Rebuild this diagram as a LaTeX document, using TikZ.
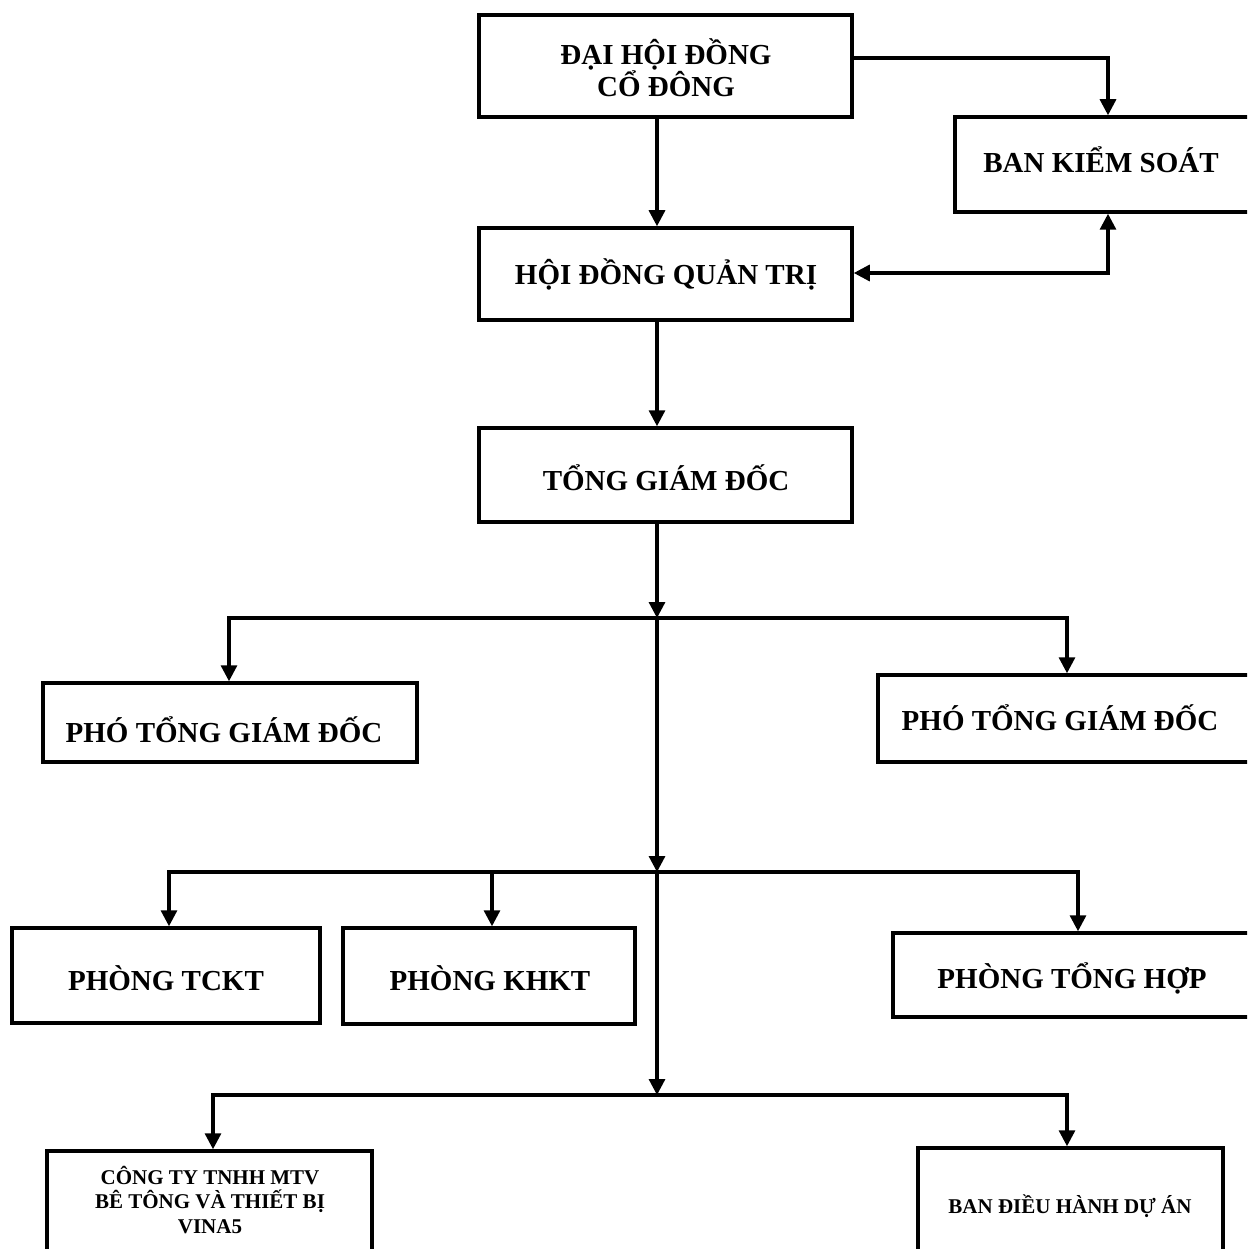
\documentclass[tikz,border=0pt]{standalone}
\usepackage{fontspec}
\setmainfont{Liberation Serif}
\usetikzlibrary{arrows.meta}
\begin{document}
\begin{tikzpicture}[x=1pt,y=-1pt,
  box/.style={draw, line width=3.5pt, inner sep=0pt},
  txt/.style={inner sep=0pt, anchor=base, align=center, font=\bfseries\fontsize{29}{32}\selectfont},
  smalltxt/.style={inner sep=0pt, anchor=base, align=center, font=\bfseries\fontsize{21}{24.5}\selectfont},
  conn/.style={line width=3.2pt},
  arr/.style={conn, -{Triangle[length=16pt,width=16pt]}},
  darr/.style={conn, {Triangle[length=16pt,width=16pt]}-{Triangle[length=16pt,width=16pt]}}]
\useasboundingbox (0,0) rectangle (1247,1249);
\clip (0,0) rectangle (1247,1249);

% boxes
\node[box, minimum width=373pt, minimum height=102pt] (dh) at (665.5,66) {};
\node[box, minimum width=335pt, minimum height=95pt] (bks) at (1122.5,164.5) {};
\node[box, minimum width=373pt, minimum height=92pt] (hdqt) at (665.5,274) {};
\node[box, minimum width=373pt, minimum height=94pt] (tgd) at (665.5,475) {};
\node[box, minimum width=374pt, minimum height=79pt] (ptl) at (230,722.5) {};
\node[box, minimum width=412pt, minimum height=87pt] (ptr) at (1084,718.5) {};
\node[box, minimum width=308pt, minimum height=95pt] (tc) at (166,975.5) {};
\node[box, minimum width=292pt, minimum height=96pt] (kh) at (489,976) {};
\node[box, minimum width=397pt, minimum height=84pt] (th) at (1091.5,975) {};
\node[box, minimum width=325pt, minimum height=149pt] (ct) at (209.5,1225.5) {};
\node[box, minimum width=305pt, minimum height=152pt] (bdh) at (1070.5,1224) {};

% texts (base anchor = baseline of last line)
\node[txt] (dht) at (666,97) {ĐẠI HỘI ĐỒNG\\CỔ ĐÔNG};
\node[txt] (bkst) at (1101,173) {BAN KIỂM SOÁT};
\node[txt] (hdqtt) at (666,284) {HỘI ĐỒNG QUẢN TRỊ};
\node[txt] (tgdt) at (666,490) {TỔNG GIÁM ĐỐC};
\node[txt] (ptlt) at (224,742) {PHÓ TỔNG GIÁM ĐỐC};
\node[txt] (ptrt) at (1060,730) {PHÓ TỔNG GIÁM ĐỐC};
\node[txt] (tct) at (166,990) {PHÒNG TCKT};
\node[txt] (kht) at (490,990) {PHÒNG KHKT};
\node[txt] (tht) at (1072,988) {PHÒNG TỔNG HỢP};
\node[smalltxt] (ctt) at (210,1233) {CÔNG TY TNHH MTV\\BÊ TÔNG VÀ THIẾT BỊ\\VINA5};
\node[smalltxt] (bdht) at (1070,1213) {BAN ĐIỀU HÀNH DỰ ÁN};

% junction coordinates
\coordinate (m0) at (657,0);
\coordinate (a1) at (1108,58);
\coordinate (a2) at (1108,273);
\coordinate (j1) at (657,618);
\coordinate (j1l) at (229,618);
\coordinate (j1r) at (1067,618);
\coordinate (j2) at (657,872);
\coordinate (j2a) at (169,872);
\coordinate (j2b) at (492,872);
\coordinate (j2c) at (1078,872);
\coordinate (j3) at (657,1095);
\coordinate (j3a) at (213,1095);
\coordinate (j3b) at (1067,1095);

% connectors
\draw[arr] (dh.east |- a1) -- (a1) -- (a1 |- bks.north);
\draw[darr] (hdqt.east |- a2) -- (a2) -- (a2 |- bks.south);
\draw[arr] (m0 |- dh.south) -- (m0 |- hdqt.north);
\draw[arr] (m0 |- hdqt.south) -- (m0 |- tgd.north);
\draw[arr] (j1 |- tgd.south) -- (j1);
\draw[arr] (j1) -- (j1l) -- (j1l |- ptl.north);
\draw[arr] (j1) -- (j1r) -- (j1r |- ptr.north);
\draw[arr] (j1) -- (j2);
\draw[arr] (j2) -- (j2a) -- (j2a |- tc.north);
\draw[arr] (j2b) -- (j2b |- kh.north);
\draw[arr] (j2) -- (j2c) -- (j2c |- th.north);
\draw[arr] (j2) -- (j3);
\draw[arr] (j3) -- (j3a) -- (j3a |- ct.north);
\draw[arr] (j3) -- (j3b) -- (j3b |- bdh.north);
\end{tikzpicture}
\end{document}
